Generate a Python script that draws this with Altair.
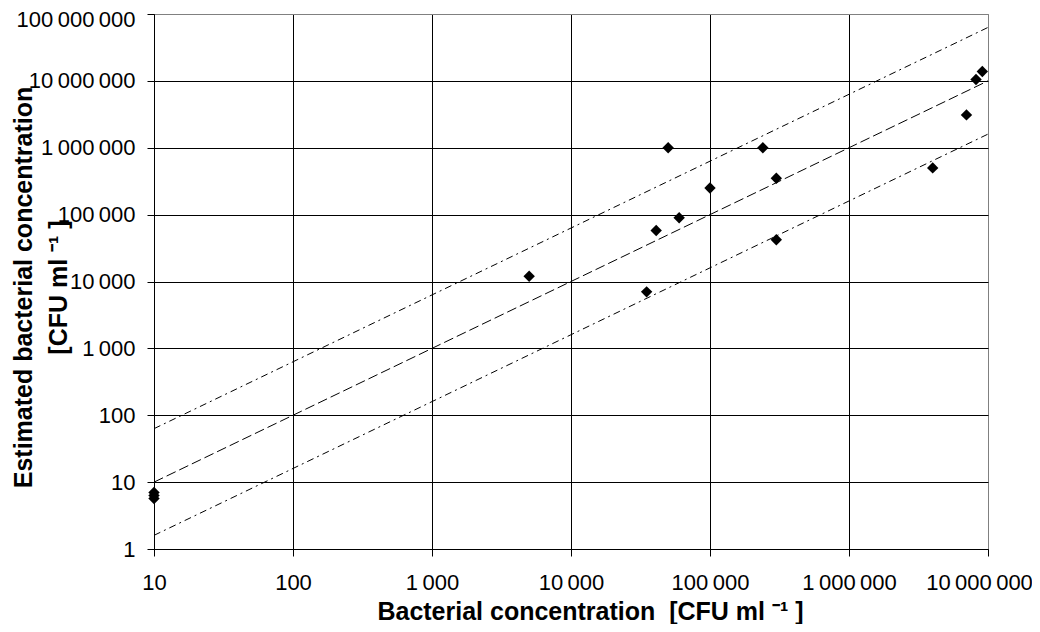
import altair as alt
import pandas as pd

# Measured points
x_values = [10, 10, 10, 5000, 35000, 41000, 60000, 50000, 100000, 240000,
            300000, 300000, 4000000, 7000000, 8200000, 9100000]
y_values = [7, 6.3, 5.7, 12000, 7000, 58000, 90000, 1000000, 250000, 1000000,
            350000, 42000, 500000, 3100000, 10500000, 13800000]

# Reference lines (y = x, y = 6.3x, y = x/6.3)
line_x = [10, 10000000]
line_equal = [10, 10000000]
line_upper = [63, 63000000]
line_lower = [1.6, 1600000]

x_ticks = [10, 100, 1000, 10000, 100000, 1000000, 10000000]
y_ticks = [1, 10, 100, 1000, 10000, 100000, 1000000, 10000000, 100000000]

pts = pd.DataFrame({"x": x_values, "y": y_values})
lines = pd.DataFrame({"x": line_x, "equal": line_equal,
                      "upper": line_upper, "lower": line_lower})

FONT = "Liberation Sans"
label_expr = "replace(replace(format(datum.value, ','), ',', '\u2009'), ',', '\u2009')"

xscale = alt.Scale(type="log", domain=[10, 10000000], nice=False)
yscale = alt.Scale(type="log", domain=[1, 100000000], nice=False)

x_axis = alt.Axis(
    values=x_ticks, labelExpr=label_expr,
    title="Bacterial concentration\u00a0 [CFU ml \u207b\u00b9\u00a0]",
    titleFont=FONT, titleFontSize=25, titleFontWeight="bold", titleColor="black",
    titleX=436, titleY=70, titleBaseline="alphabetic",
    labelFont=FONT, labelFontSize=22, labelColor="black", labelPadding=16,
    labelFlush=False, labelOverlap=False,
    labelOffset={"condition": {"test": "datum.value >= 9000000", "value": -9}, "value": 0},
    tickSize=7, tickColor="black", domainColor="black",
    gridColor={"condition": {"test": "datum.value >= 9000000", "value": "#808080"}, "value": "black"},
    gridOpacity=1, gridWidth=1,
)
y_axis = alt.Axis(
    values=y_ticks, labelExpr=label_expr,
    title=["Estimated bacterial concentration", "[CFU ml \u207b\u00b9\u00a0]"],
    titleFont=FONT, titleFontSize=25, titleFontWeight="bold", titleColor="black",
    titleX=-123, titleY=273, titleBaseline="alphabetic", titleAlign="center",
    titleLineHeight=35,
    labelFont=FONT, labelFontSize=22, labelColor="black", labelPadding=12,
    labelFlush=False, labelOverlap=False,
    labelOffset={"condition": {"test": "datum.value >= 90000000", "value": 5}, "value": 0},
    tickSize=7, tickColor="black", domainColor="black",
    gridColor={"condition": {"test": "datum.value >= 90000000", "value": "#808080"}, "value": "black"},
    gridOpacity=1, gridWidth=1,
)

base = alt.Chart(lines)
l_equal = base.mark_line(color="black", strokeWidth=1, strokeDash=[10, 4]).encode(
    x=alt.X("x:Q", scale=xscale, axis=x_axis),
    y=alt.Y("equal:Q", scale=yscale, axis=y_axis),
)
l_upper = base.mark_line(color="black", strokeWidth=1, strokeDash=[7, 4, 2, 4]).encode(
    x=alt.X("x:Q", scale=xscale), y=alt.Y("upper:Q", scale=yscale))
l_lower = base.mark_line(color="black", strokeWidth=1, strokeDash=[7, 4, 2, 4]).encode(
    x=alt.X("x:Q", scale=xscale), y=alt.Y("lower:Q", scale=yscale))

points = alt.Chart(pts).mark_point(shape="diamond", filled=True, color="black",
                                   opacity=1, size=130).encode(
    x=alt.X("x:Q", scale=xscale), y=alt.Y("y:Q", scale=yscale))

chart = alt.layer(l_equal, l_upper, l_lower, points).properties(
    width=834, height=535,
    autosize=alt.AutoSizeParams(type="none"),
    padding={"left": 146, "top": 6, "right": 44, "bottom": 75},
    background="white",
).configure_view(stroke="#808080", strokeWidth=1)

chart.save("out.html", embed_options={"renderer": "svg", "actions": False})
